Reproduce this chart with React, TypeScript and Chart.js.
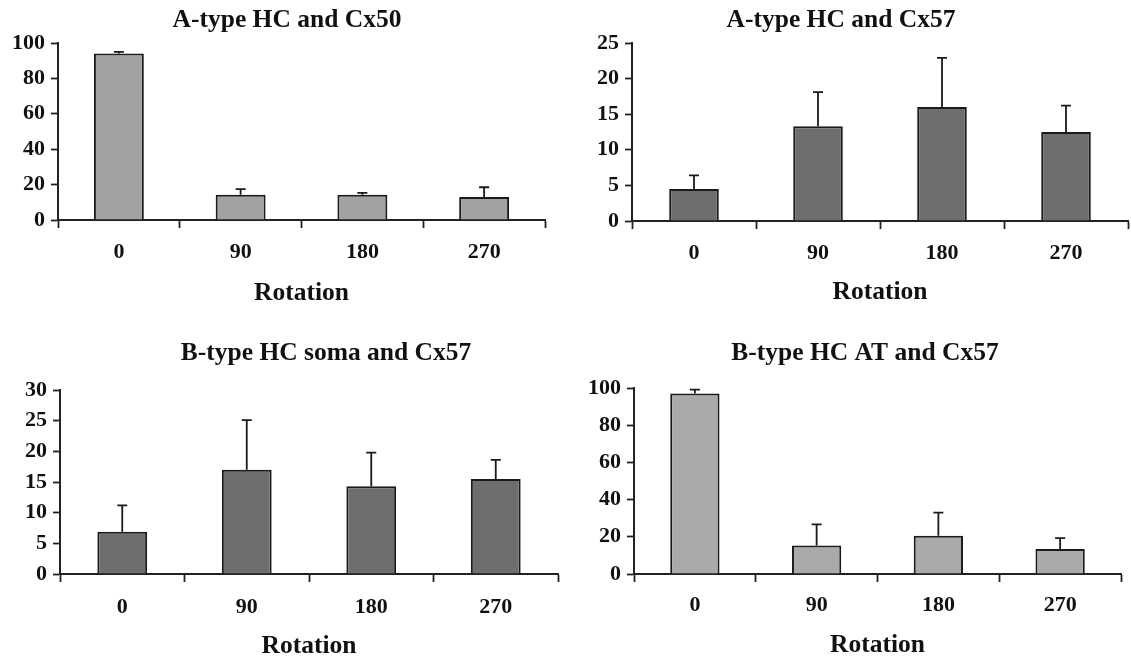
import React, { useEffect, useRef } from "react";
import { Chart, registerables } from "chart.js";

Chart.register(...registerables);

const categories = ["0", "90", "180", "270"];

const titleA50 = "A-type HC and Cx50";
const valuesA50 = [94, 14.2, 14.2, 13];
const errorsA50 = [1, 3.2, 1.1, 5.5];

const titleA57 = "A-type HC and Cx57";
const valuesA57 = [4.5, 13.3, 16.0, 12.5];
const errorsA57 = [1.9, 4.8, 6.9, 3.7];

const titleBsoma = "B-type HC soma and Cx57";
const valuesBsoma = [6.9, 17.0, 14.3, 15.5];
const errorsBsoma = [4.3, 8.1, 5.5, 3.1];

const titleBAT = "B-type HC AT and Cx57";
const valuesBAT = [97.1, 15.3, 20.5, 13.5];
const errorsBAT = [2.0, 11.4, 12.5, 5.8];

const xAxisTitle = "Rotation";

const FONT = "'Liberation Serif', 'Times New Roman', serif";

type PanelSpec = {
  title: string;
  values: number[];
  errors: number[];
  color: string;
  yMax: number;
  yStep: number;
  barPct: number;
  cl: number; ct: number; cw: number; ch: number;
  left: number; right: number; top: number; bottom: number;
  titleCenterY: number;
  labelCenterY: number;
  rotCenterY: number;
};

const panels: PanelSpec[] = [
  {
    title: titleA50, values: valuesA50, errors: errorsA50, color: "#a2a2a2",
    yMax: 100, yStep: 20, barPct: 0.41,
    cl: 0, ct: 0, cw: 574, ch: 320,
    left: 58, right: 545, top: 43, bottom: 220,
    titleCenterY: 20, labelCenterY: 252.5, rotCenterY: 293,
  },
  {
    title: titleA57, values: valuesA57, errors: errorsA57, color: "#6e6e6e",
    yMax: 25, yStep: 5, barPct: 0.4,
    cl: 551, ct: 0, cw: 580, ch: 320,
    left: 632, right: 1128, top: 43, bottom: 221,
    titleCenterY: 20, labelCenterY: 253, rotCenterY: 292,
  },
  {
    title: titleBsoma, values: valuesBsoma, errors: errorsBsoma, color: "#6e6e6e",
    yMax: 30, yStep: 5, barPct: 0.4,
    cl: 0, ct: 320, cw: 652, ch: 340,
    left: 60, right: 558, top: 390, bottom: 574,
    titleCenterY: 353, labelCenterY: 607, rotCenterY: 646,
  },
  {
    title: titleBAT, values: valuesBAT, errors: errorsBAT, color: "#aaaaaa",
    yMax: 100, yStep: 20, barPct: 0.405,
    cl: 575, ct: 320, cw: 580, ch: 340,
    left: 634, right: 1121, top: 388, bottom: 574,
    titleCenterY: 353, labelCenterY: 605, rotCenterY: 645,
  },
];

function makeErrorBarPlugin(values: number[], errors: number[]) {
  return {
    id: "errorBars",
    afterDatasetsDraw(chart: any) {
      const meta = chart.getDatasetMeta(0);
      const y = chart.scales.y;
      const ctx = chart.ctx;
      ctx.save();
      ctx.strokeStyle = "#1a1a1a";
      ctx.lineWidth = 1.8;
      meta.data.forEach((bar: any, i: number) => {
        const x = bar.x;
        const y0 = y.getPixelForValue(values[i]);
        const y1 = y.getPixelForValue(values[i] + errors[i]);
        ctx.beginPath();
        ctx.moveTo(x, y0);
        ctx.lineTo(x, y1);
        ctx.moveTo(x - 5, y1);
        ctx.lineTo(x + 5, y1);
        ctx.stroke();
      });
      ctx.restore();
    },
  };
}

function Panel({ spec }: { spec: PanelSpec }) {
  const ref = useRef<HTMLCanvasElement | null>(null);
  useEffect(() => {
    if (!ref.current) return;
    const s = spec;
    const titleSize = 25.5;
    const rotSize = 25.5;
    const tickSize = 22;
    const titlePadTop = s.titleCenterY - s.ct - titleSize / 2;
    const titlePadBottom = s.top - s.ct - titlePadTop - titleSize;
    const xTickLen = 8;
    const xTickPad = s.labelCenterY - s.bottom - xTickLen - tickSize / 2;
    const rotPadBottom = Math.max(0, s.ct + s.ch - s.rotCenterY - rotSize / 2);
    const leftW = s.left - s.cl;
    const rightW = s.cl + s.cw - s.right;
    const xH = s.ct + s.ch - s.bottom;

    const chart = new Chart(ref.current, {
      type: "bar",
      data: {
        labels: categories,
        datasets: [
          {
            data: s.values,
            backgroundColor: s.color,
            borderColor: "#1a1a1a",
            borderWidth: 2,
            barPercentage: s.barPct,
            categoryPercentage: 1,
          },
        ],
      },
      options: {
        responsive: false,
        animation: false,
        events: [],
        layout: { padding: 0 },
        plugins: {
          legend: { display: false },
          tooltip: { enabled: false },
          title: {
            display: true,
            text: s.title,
            color: "#111",
            font: { family: FONT, size: titleSize, weight: "bold", lineHeight: 1 },
            padding: { top: titlePadTop, bottom: titlePadBottom },
          },
        },
        scales: {
          x: {
            type: "category",
            offset: true,
            grid: {
              display: true,
              offset: true,
              drawOnChartArea: false,
              drawTicks: true,
              tickLength: xTickLen,
              tickColor: "#222",
              tickWidth: 1.8,
            },
            border: { display: true, color: "#222", width: 2 },
            ticks: {
              color: "#111",
              font: { family: FONT, size: tickSize, weight: "bold", lineHeight: 1 },
              padding: xTickPad,
              maxRotation: 0,
              autoSkip: false,
            },
            title: {
              display: true,
              text: xAxisTitle,
              color: "#111",
              font: { family: FONT, size: rotSize, weight: "bold", lineHeight: 1 },
              padding: { top: 0, bottom: rotPadBottom },
            },
            afterFit: (sc: any) => {
              sc.height = xH;
            },
          },
          y: {
            type: "linear",
            min: 0,
            max: s.yMax,
            grid: {
              display: true,
              drawOnChartArea: false,
              drawTicks: true,
              tickLength: 7,
              tickColor: "#222",
              tickWidth: 1.8,
            },
            border: { display: true, color: "#222", width: 2 },
            ticks: {
              stepSize: s.yStep,
              color: "#111",
              padding: 6,
              font: { family: FONT, size: tickSize, weight: "bold", lineHeight: 1 },
            },
            afterFit: (sc: any) => {
              sc.width = leftW;
            },
          },
          pad: {
            type: "linear",
            position: "right",
            display: true,
            grid: { display: false },
            border: { display: false },
            ticks: { display: false },
            afterFit: (sc: any) => {
              sc.width = rightW;
            },
          },
        },
      } as any,
      plugins: [makeErrorBarPlugin(s.values, s.errors)],
    });
    return () => chart.destroy();
  }, [spec]);

  return (
    <canvas
      ref={ref}
      width={spec.cw}
      height={spec.ch}
      style={{
        position: "absolute",
        left: spec.cl,
        top: spec.ct,
        width: spec.cw,
        height: spec.ch,
      }}
    />
  );
}

export default function App() {
  return (
    <div
      style={{
        position: "absolute",
        left: 0,
        top: 0,
        width: 1131,
        height: 660,
        overflow: "hidden",
        background: "#ffffff",
      }}
    >
      {panels.map((p, i) => (
        <Panel key={i} spec={p} />
      ))}
    </div>
  );
}
